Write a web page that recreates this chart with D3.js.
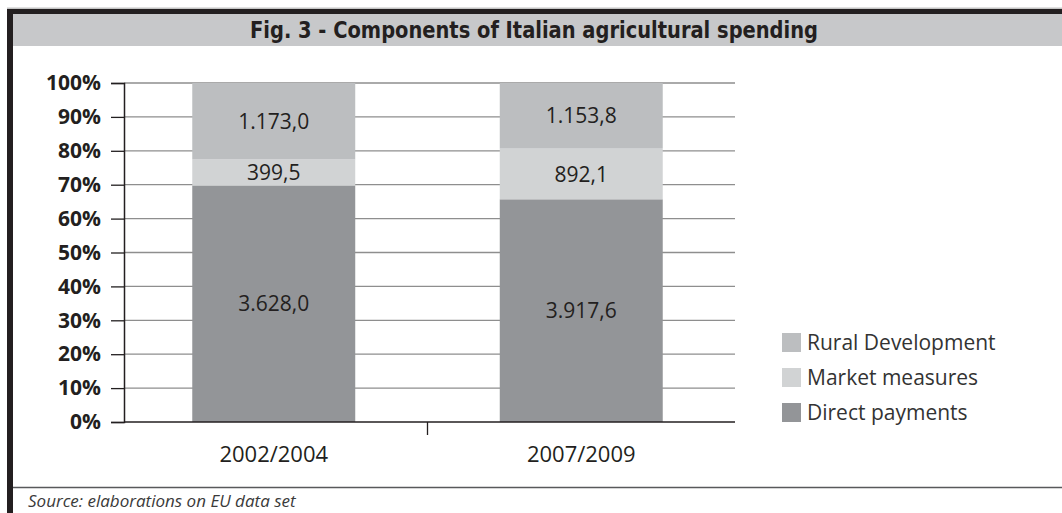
<!DOCTYPE html>
<html>
<head>
<meta charset="utf-8">
<script src="https://cdn.jsdelivr.net/npm/d3@7"></script>
<style>
  html, body { margin: 0; padding: 0; background: #fff; }
  svg { display: block; }
</style>
</head>
<body>
<svg id="chart" width="1062" height="513"></svg>
<script>
// Periods on the x axis
const periods = ["2002/2004", "2007/2009"];
// Spending components (millions of euro), stacked bottom to top
const directPayments = [3628.0, 3917.6];
const marketMeasures = [399.5, 892.1];
const ruralDevelopment = [1173.0, 1153.8];
// Percentage ticks on the y axis
const yTicks = [0, 0.1, 0.2, 0.3, 0.4, 0.5, 0.6, 0.7, 0.8, 0.9, 1.0];

const seriesNames = ["Direct payments", "Market measures", "Rural Development"];
const seriesColors = ["#939598", "#d1d3d4", "#bcbec0"];
const seriesValues = [directPayments, marketMeasures, ruralDevelopment];

const W = 1062, H = 513;
const svg = d3.select("#chart");
const ink = "#231f20";

// ---- frame and title band ----
svg.append("rect").attr("x", 0).attr("y", 0).attr("width", W).attr("height", H).attr("fill", "#fff");
svg.append("rect").attr("x", 7).attr("y", 7.5).attr("width", W - 7).attr("height", 1.5).attr("fill", "#c4c4c4");
svg.append("rect").attr("x", 13).attr("y", 14).attr("width", W - 13).attr("height", 32).attr("fill", "#c7c8ca");
svg.append("rect").attr("x", 7).attr("y", 9).attr("width", W - 7).attr("height", 5).attr("fill", ink);
svg.append("rect").attr("x", 7).attr("y", 9).attr("width", 6).attr("height", H - 9).attr("fill", ink);

svg.append("text")
  .attr("x", 534).attr("y", 38)
  .attr("text-anchor", "middle")
  .attr("textLength", 568).attr("lengthAdjust", "spacingAndGlyphs")
  .style("font-family", "'Liberation Sans Narrow', 'DejaVu Sans Condensed', 'Open Sans', sans-serif")
  .style("font-weight", "bold").style("font-size", "23px").attr("fill", ink)
  .text("Fig. 3 - Components of Italian agricultural spending");

// ---- data ----
const rows = periods.map((p, i) => {
  const r = { period: p };
  seriesNames.forEach((n, k) => { r[n] = seriesValues[k][i]; });
  return r;
});
const stacked = d3.stack().keys(seriesNames).offset(d3.stackOffsetExpand)(rows);

// ---- scales ----
const x0 = 120, x1 = 735, yTop = 83, yBot = 422, axisX = 124;
const x = d3.scaleBand().domain(periods).range([x0, x1]).paddingInner(0.47).paddingOuter(0.235);
const y = d3.scaleLinear().domain([0, 1]).range([yBot, yTop]);

// ---- gridlines ----
svg.append("g").selectAll("line").data(yTicks.filter(t => t > 0)).join("line")
  .attr("x1", axisX).attr("x2", x1)
  .attr("y1", d => y(d)).attr("y2", d => y(d))
  .attr("stroke", "#8e8e8e").attr("stroke-width", 1.3);

// ---- bars ----
const layers = svg.append("g").selectAll("g").data(stacked).join("g")
  .attr("fill", (d, i) => seriesColors[i]);
layers.selectAll("rect").data(d => d).join("rect")
  .attr("x", d => x(d.data.period))
  .attr("width", x.bandwidth())
  .attr("y", d => y(d[1]))
  .attr("height", d => y(d[0]) - y(d[1]));

// ---- value labels ----
const fmt = v => {
  const s = v.toFixed(1).split(".");
  const intPart = s[0].replace(/\B(?=(\d{3})+(?!\d))/g, ".");
  return intPart + "," + s[1];
};
stacked.forEach((layer, k) => {
  svg.append("g").selectAll("text").data(layer).join("text")
    .attr("x", d => x(d.data.period) + x.bandwidth() / 2)
    .attr("y", d => (y(d[0]) + y(d[1])) / 2)
    .attr("dy", "0.36em")
    .attr("text-anchor", "middle")
    .style("font-family", "'Open Sans', sans-serif").style("font-size", "21px")
    .attr("fill", ink)
    .text(d => fmt(d.data[layer.key]));
});

// ---- y axis ----
const yAxis = d3.axisLeft(y).tickValues(yTicks).tickFormat(d3.format(".0%")).tickSize(13).tickPadding(10);
const gy = svg.append("g").attr("transform", `translate(${axisX},0)`).call(yAxis);
gy.select(".domain").attr("stroke", ink).attr("stroke-width", 1.5);
gy.selectAll(".tick line").attr("stroke", ink).attr("stroke-width", 1.3);
gy.selectAll(".tick text")
  .style("font-family", "'Open Sans', sans-serif").style("font-weight", "bold").style("font-size", "21px")
  .attr("fill", ink);

// ---- x axis ----
svg.append("line").attr("x1", axisX).attr("x2", x1).attr("y1", yBot).attr("y2", yBot)
  .attr("stroke", ink).attr("stroke-width", 1.5);
// separator ticks between categories
const seps = periods.slice(1).map(p => x(p) - x.step() * x.paddingInner() / 2);
svg.append("g").selectAll("line").data(seps).join("line")
  .attr("x1", d => d).attr("x2", d => d).attr("y1", yBot).attr("y2", yBot + 13)
  .attr("stroke", ink).attr("stroke-width", 1.3);
svg.append("g").selectAll("text").data(periods).join("text")
  .attr("x", d => x(d) + x.bandwidth() / 2).attr("y", 462)
  .attr("text-anchor", "middle")
  .style("font-family", "'Open Sans', sans-serif").style("font-size", "22px")
  .attr("fill", ink).text(d => d);

// ---- legend (top to bottom: Rural, Market, Direct) ----
const legendOrder = [2, 1, 0];
const lg = svg.append("g").selectAll("g").data(legendOrder).join("g")
  .attr("transform", (d, i) => `translate(782, ${333 + i * 35})`);
lg.append("rect").attr("width", 19).attr("height", 19).attr("fill", d => seriesColors[d]);
lg.append("text").attr("x", 25).attr("y", 17)
  .style("font-family", "'Open Sans', sans-serif").style("font-size", "21px")
  .attr("fill", "#333").text(d => seriesNames[d]);

// ---- source note ----
svg.append("line").attr("x1", 13).attr("x2", W).attr("y1", 487.5).attr("y2", 487.5)
  .attr("stroke", "#58595b").attr("stroke-width", 1.5);
svg.append("text").attr("x", 28).attr("y", 507)
  .style("font-family", "'Open Sans', sans-serif").style("font-style", "italic").style("font-size", "17px")
  .attr("fill", "#3a3a3a").text("Source: elaborations on EU data set");
</script>
</body>
</html>
